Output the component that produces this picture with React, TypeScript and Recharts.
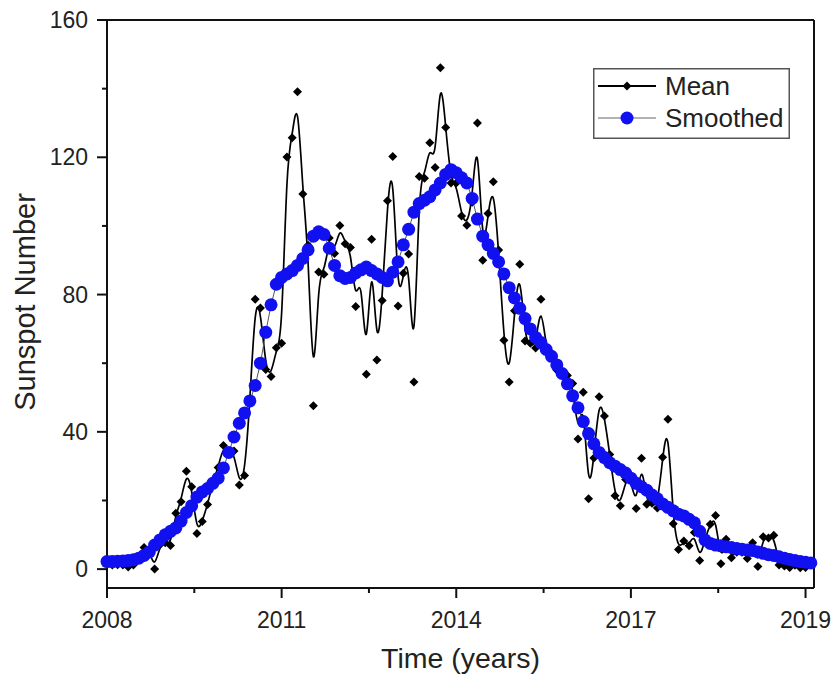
import { ComposedChart, Line, XAxis, YAxis, Legend, ReferenceLine } from 'recharts';

// monthly sunspot numbers, one value per month, the first one sits on the 2008 tick
const MEAN = [
  2.0, 1.2, 1.3, 1.2, 0.6, 1.2, 2.9, 6.3, 5.5, 0.0, 7.1, 7.7,
  6.9, 16.3, 19.6, 28.5, 24.0, 10.4, 13.9, 18.8, 25.2, 29.6, 36.0, 33.6,
  34.4, 24.5, 27.3, 48.3, 78.6, 76.1, 58.2, 56.1, 64.5, 65.8, 120.1, 125.7,
  139.1, 109.3, 94.4, 47.6, 86.6, 85.9, 96.5, 92.0, 100.1, 94.8, 93.7, 76.5,
  87.6, 56.8, 96.1, 60.9, 78.3, 107.3, 120.2, 76.7, 86.2, 91.8, 54.5, 114.4,
  113.9, 124.2, 117.0, 146.1, 128.7, 112.5, 112.5, 102.9, 100.2, 106.9, 130.0, 90.0,
  103.6, 112.9, 93.0, 66.7, 54.5, 75.3, 88.8, 66.5, 65.8, 64.4, 78.6, 63.6,
  62.2, 58.0, 57.0, 56.4, 54.1, 37.9, 51.5, 20.5, 32.4, 50.2, 44.6, 33.4,
  21.4, 18.5, 26.1, 26.4, 17.7, 32.3, 18.9, 19.2, 17.8, 32.6, 43.7, 13.2,
  5.7, 8.2, 6.8, 10.7, 2.5, 8.9, 13.1, 15.6, 1.6, 8.7, 3.3, 4.9,
  4.9, 3.1, 7.7, 0.8, 9.4, 9.1, 9.9, 1.2, 0.9, 0.5, 1.1, 0.4,
  0.5, 1.5,
];

const SMOOTHED = [
  2.2, 2.2, 2.3, 2.4, 2.5, 2.7, 3.2, 4.0, 5.0, 7.0, 8.5, 10.0,
  11.0, 12.0, 14.0, 16.5, 18.5, 21.0, 22.5, 23.5, 25.0, 26.5, 29.5, 34.0,
  38.5, 42.5, 45.5, 49.0, 53.5, 60.0, 69.0, 77.0, 83.0, 85.0, 86.0, 87.0,
  88.5, 90.5, 93.0, 97.0, 98.3, 97.5, 93.5, 88.5, 85.5, 84.7, 85.0, 86.3,
  87.2, 88.0, 87.0, 86.0, 85.0, 84.0, 86.5, 89.5, 94.5, 99.0, 104.0, 106.5,
  107.5, 108.5, 110.5, 112.5, 115.0, 116.4, 115.5, 114.0, 112.5, 108.0, 102.0, 97.0,
  94.5, 92.0, 89.5, 86.0, 82.0, 79.0, 76.0, 73.0, 70.0, 67.5, 66.0, 64.0,
  62.0, 59.5, 57.0, 54.0, 50.5, 47.0, 43.0, 39.5, 36.5, 34.0, 32.5, 31.0,
  30.0, 29.0, 28.0, 26.5, 25.0, 24.0, 23.0, 21.6, 20.5, 19.0, 18.0, 17.0,
  16.0, 15.5, 14.5, 13.5, 11.0, 8.5, 7.5, 7.0, 6.8, 6.5, 6.3, 6.0,
  5.8, 5.6, 5.4, 5.0, 4.6, 4.2, 4.0, 3.6, 3.2, 2.8, 2.5, 2.2,
  2.0, 1.8,
];

const X_MAJOR = [0, 33, 66, 99, 132];
const X_LABELS = ['2008', '2011', '2014', '2017', '2019'];
const X_TICKS = [0, 16.5, 33, 49.5, 66, 82.5, 99, 115.5, 132];
const Y_TICKS = [0, 20, 40, 60, 80, 100, 120, 140, 160];

const data = MEAN.map((v, i) => ({ m: i, mean: v, smoothed: SMOOTHED[i] }));

const FONT = '"Liberation Sans", Arial, sans-serif';
const INK = '#222';
const AXIS = '#111';
const BLUE = '#1010f0';

function XTick({ x, y, payload }: any) {
  const idx = X_MAJOR.indexOf(payload.value);
  const y0 = y - 10; // axis line
  return (
    <g>
      <line x1={x} x2={x} y1={y0} y2={y0 + (idx >= 0 ? 10 : 5)} stroke={AXIS} strokeWidth={2} />
      {idx >= 0 && (
        <text x={x} y={y0 + 40} textAnchor="middle" fontSize={23} fill={INK} fontFamily={FONT}>
          {X_LABELS[idx]}
        </text>
      )}
    </g>
  );
}

function YTick({ x, y, payload }: any) {
  const major = payload.value % 40 === 0;
  const xa = x + 19; // axis line
  return (
    <g>
      <line x1={xa - (major ? 10 : 5)} x2={xa} y1={y} y2={y} stroke={AXIS} strokeWidth={2} />
      {major && (
        <text x={x} y={y + 8} textAnchor="end" fontSize={23} fill={INK} fontFamily={FONT}>
          {payload.value}
        </text>
      )}
    </g>
  );
}

const diamond = (props: any) => {
  const { cx, cy, index } = props;
  if (cx == null || cy == null) return <g key={`d-${index}`} />;
  const s = 4.5;
  return (
    <path
      key={`d-${index}`}
      d={`M${cx},${cy - s}L${cx + s},${cy}L${cx},${cy + s}L${cx - s},${cy}Z`}
      fill="#000"
    />
  );
};

function LegendBox() {
  return (
    <svg width={197} height={71} style={{ display: 'block' }}>
      <rect x={0.75} y={0.75} width={195.5} height={69.5} fill="#fff" stroke="#555" strokeWidth={1.5} />
      <line x1={5} x2={63} y1={18} y2={18} stroke="#000" strokeWidth={2} />
      <path d="M34,13.5L38.5,18L34,22.5L29.5,18Z" fill="#000" />
      <text x={72} y={27} fontSize={26} fill={INK} fontFamily={FONT}>Mean</text>
      <line x1={5} x2={63} y1={50} y2={50} stroke="#666" strokeWidth={1} />
      <circle cx={34} cy={50} r={6.5} fill={BLUE} />
      <text x={72} y={59} fontSize={26} fill={INK} fontFamily={FONT}>Smoothed</text>
    </svg>
  );
}

export default function App() {
  return (
    <div style={{ position: 'absolute', left: 0, top: 0, background: '#fff' }}>
      <ComposedChart width={835} height={677} data={data} margin={{ top: 20, right: 21, bottom: 0, left: 0 }}>
        <XAxis
          dataKey="m"
          type="number"
          domain={[0, 133.6]}
          ticks={X_TICKS}
          interval={0}
          height={89}
          tickSize={10}
          tickMargin={0}
          tickLine={false}
          tick={<XTick />}
          axisLine={{ stroke: AXIS, strokeWidth: 2 }}
          label={{
            content: (p: any) => {
              const vb = p.viewBox;
              return (
                <text x={vb.x + vb.width / 2} y={vb.y + vb.height - 9} textAnchor="middle" fontSize={28.5} fill={INK} fontFamily={FONT}>
                  Time (years)
                </text>
              );
            },
          }}
        />
        <YAxis
          type="number"
          domain={[-5.5, 160]}
          ticks={Y_TICKS}
          interval={0}
          width={107}
          tickSize={10}
          tickMargin={9}
          tickLine={false}
          tick={<YTick />}
          axisLine={{ stroke: AXIS, strokeWidth: 2 }}
          label={{
            content: (p: any) => {
              const vb = p.viewBox;
              const cy = vb.y + vb.height / 2 - 2;
              return (
                <text x={35} y={cy} transform={`rotate(-90 35 ${cy})`} textAnchor="middle" fontSize={29} fill={INK} fontFamily={FONT}>
                  Sunspot Number
                </text>
              );
            },
          }}
        />
        <ReferenceLine y={160} stroke={AXIS} strokeWidth={2} ifOverflow="visible" />
        <ReferenceLine x={133.6} stroke={AXIS} strokeWidth={2} ifOverflow="visible" />
        <Line
          type="basis"
          dataKey="mean"
          name="Mean"
          stroke="#000"
          strokeWidth={1.7}
          dot={diamond}
          activeDot={false}
          isAnimationActive={false}
        />
        <Line
          type="linear"
          dataKey="smoothed"
          name="Smoothed"
          stroke="#555"
          strokeWidth={1}
          dot={{ r: 6.5, fill: BLUE, stroke: 'none' }}
          activeDot={false}
          isAnimationActive={false}
        />
        <Legend
          layout="vertical"
          align="center"
          verticalAlign="middle"
          content={() => <LegendBox />}
          wrapperStyle={{ position: 'absolute', left: 593, top: 68, width: 197, height: 71 }}
        />
      </ComposedChart>
    </div>
  );
}
